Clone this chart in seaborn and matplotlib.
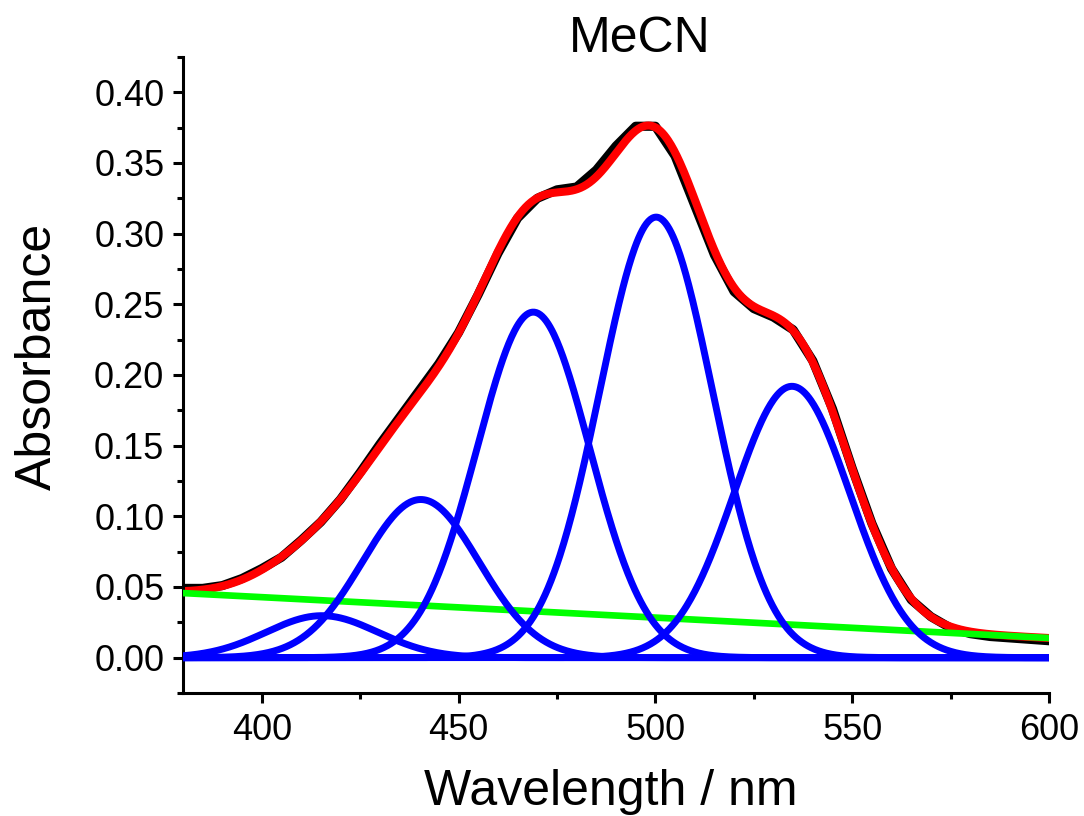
import numpy as np
import pandas as pd
import matplotlib
matplotlib.use("Agg")
import matplotlib.pyplot as plt
import seaborn as sns
from matplotlib.ticker import MultipleLocator, FormatStrFormatter

# ---- data ----
wavelength_nm = [380, 385, 390, 395, 400, 405, 410, 415, 420, 425, 430, 435, 440, 445,
                 450, 455, 460, 465, 470, 475, 480, 485, 490, 495, 500, 505, 510, 515,
                 520, 525, 530, 535, 540, 545, 550, 555, 560, 565, 570, 575, 580, 585,
                 590, 595, 600]
measured_abs = [0.049, 0.049, 0.051, 0.056, 0.063, 0.071, 0.083, 0.096, 0.112, 0.131,
                0.151, 0.170, 0.189, 0.208, 0.230, 0.257, 0.286, 0.311, 0.325, 0.331,
                0.333, 0.345, 0.362, 0.376, 0.376, 0.355, 0.320, 0.285, 0.259, 0.247,
                0.241, 0.232, 0.210, 0.176, 0.134, 0.095, 0.063, 0.041, 0.029, 0.021,
                0.017, 0.015, 0.014, 0.013, 0.012]

# Gaussian fit components (centre / nm, height, sigma / nm)
peak_centers = [415.3, 440.4, 469.0, 500.2, 534.7]
peak_heights = [0.0297, 0.1119, 0.2445, 0.3117, 0.192]
peak_sigmas = [14.2, 14.8, 14.3, 14.3, 14.7]

# linear baseline (end points)
baseline_nm = [380, 600]
baseline_abs = [0.0457, 0.0139]

x_ticks = [400, 450, 500, 550, 600]
y_ticks = [0.00, 0.05, 0.10, 0.15, 0.20, 0.25, 0.30, 0.35, 0.40]

# ---- evaluate the fit model ----
grid = np.linspace(380, 600, 881)
components = [h * np.exp(-(grid - c) ** 2 / (2 * s ** 2))
              for c, h, s in zip(peak_centers, peak_heights, peak_sigmas)]
base_grid = np.interp(grid, baseline_nm, baseline_abs)
fit_total = base_grid + np.sum(components, axis=0)

sns.set_style("ticks")
plt.rcParams['font.family'] = ['Liberation Sans', 'DejaVu Sans']
plt.rcParams['text.color'] = 'black'

fig = plt.figure(figsize=(10.84, 8.16), dpi=100)
ax = fig.add_axes([183 / 1084, 1 - 693 / 816, 866 / 1084, 636 / 816])

df_meas = pd.DataFrame({"wl": wavelength_nm, "A": measured_abs})
sns.lineplot(data=df_meas, x="wl", y="A", color="black", lw=6.6, ax=ax, zorder=1)
sns.lineplot(x=grid, y=fit_total, color="#ff0000", lw=5.8, ax=ax, zorder=2)
sns.lineplot(x=baseline_nm, y=baseline_abs, color="#00ff00", lw=4.8, ax=ax, zorder=3)
for comp in components:
    sns.lineplot(x=grid, y=comp, color="#0000ff", lw=5.0, ax=ax, zorder=4)

ax.set_xlim(380, 600)
ax.set_ylim(-0.025, 0.425)
ax.set_xticks(x_ticks)
ax.set_yticks(y_ticks)
ax.xaxis.set_minor_locator(MultipleLocator(25))
ax.yaxis.set_minor_locator(MultipleLocator(0.025))
ax.yaxis.set_major_formatter(FormatStrFormatter('%.2f'))
ax.set_xlabel("")
ax.set_ylabel("")

for side in ["top", "right"]:
    ax.spines[side].set_visible(False)
for side in ["left", "bottom"]:
    ax.spines[side].set_linewidth(2.2)
    ax.spines[side].set_color("black")

ax.tick_params(axis="both", which="major", direction="out", length=7.5, width=2.2,
               labelsize=26, color="black", labelcolor="black")
ax.tick_params(axis="both", which="minor", direction="out", length=4, width=2.2,
               color="black")
ax.tick_params(axis="x", which="major", pad=7)
ax.tick_params(axis="y", which="major", pad=6)

fig.text(640 / 1084, 1 - 52 / 816, "MeCN", fontsize=36, ha="center", va="baseline",
         color="black")
fig.text(611 / 1084, 1 - 805 / 816, "Wavelength / nm", fontsize=36, ha="center",
         va="baseline", color="black")
fig.text(38 / 1084, 1 - 356 / 816, "Absorbance", fontsize=36, rotation=90,
         ha="center", va="center", color="black")

fig.savefig("out.png", dpi=100)
